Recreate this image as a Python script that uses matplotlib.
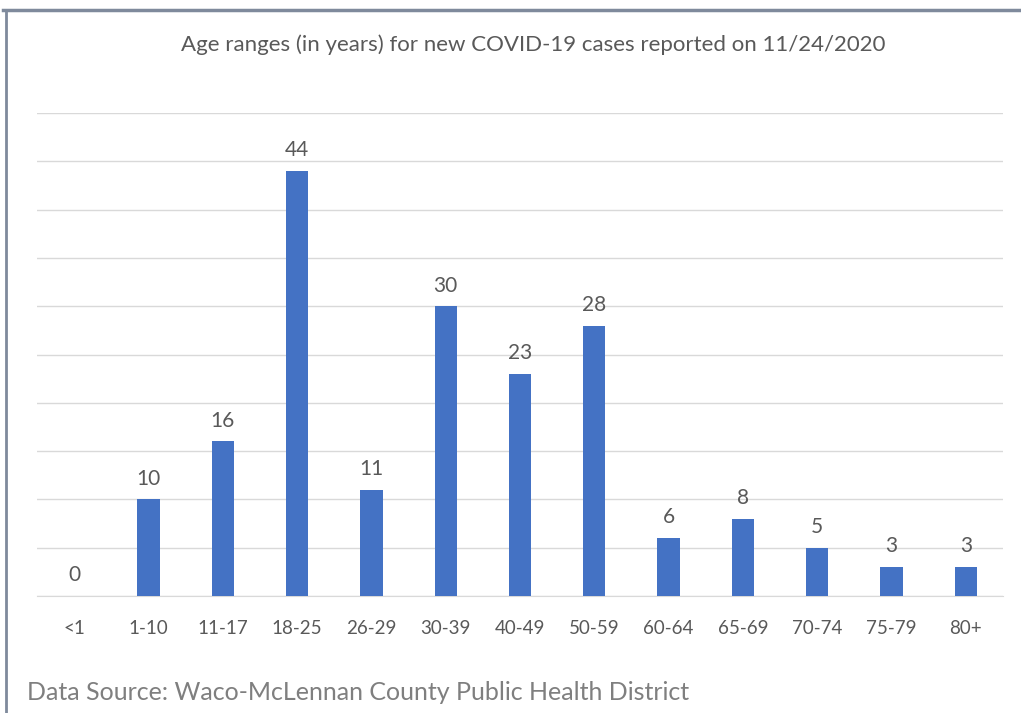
import matplotlib.pyplot as plt
from matplotlib.lines import Line2D

# Données
ages = ['<1', '1-10', '11-17', '18-25', '26-29', '30-39', '40-49', '50-59',
        '60-64', '65-69', '70-74', '75-79', '80+']
cases = [0, 10, 16, 44, 11, 30, 23, 28, 6, 8, 5, 3, 3]

plt.rcParams['font.family'] = ['Lato', 'DejaVu Sans']

fig = plt.figure(figsize=(10.21, 7.13), dpi=100)
ax = fig.add_axes([37 / 1021, 1 - 596 / 713, 966 / 1021, (596 - 113) / 713])

x = range(len(ages))
ax.bar(x, cases, width=0.3, color='#4472c4', zorder=3)

# Étiquettes de données
for xi, v in zip(x, cases):
    ax.text(xi, v + 1.1, str(v), ha='center', va='bottom', fontsize=15, color='#595959')

ax.set_xlim(-0.5, len(ages) - 0.5)
ax.set_ylim(0, 50)
ax.set_yticks(range(0, 51, 5))
ax.yaxis.grid(True, color='#d9d9d9', linewidth=1, zorder=0)
ax.tick_params(axis='y', left=False, labelleft=False)
ax.set_xticks(list(x))
ax.set_xticklabels(ages, fontsize=13.5, color='#595959')
ax.tick_params(axis='x', length=0, pad=17)
for s in ['top', 'right', 'left']:
    ax.spines[s].set_visible(False)
ax.spines['bottom'].set_color('#d9d9d9')

fig.text(533 / 1021, 1 - 45 / 713, 'Age ranges (in years) for new COVID-19 cases reported on 11/24/2020',
         ha='center', va='center', fontsize=16, color='#595959')
fig.text(27 / 1021, 1 - 692 / 713, 'Data Source: Waco-McLennan County Public Health District',
         ha='left', va='center', fontsize=18, color='#7f7f7f')

# Cadre
fig.add_artist(Line2D([3 / 1021, 1], [1 - 10 / 713, 1 - 10 / 713], color='#7f8a9c', linewidth=2.5))
fig.add_artist(Line2D([6 / 1021, 6 / 1021], [1 - 10 / 713, 0], color='#7f8a9c', linewidth=2))

fig.savefig('out.png', dpi=100)
